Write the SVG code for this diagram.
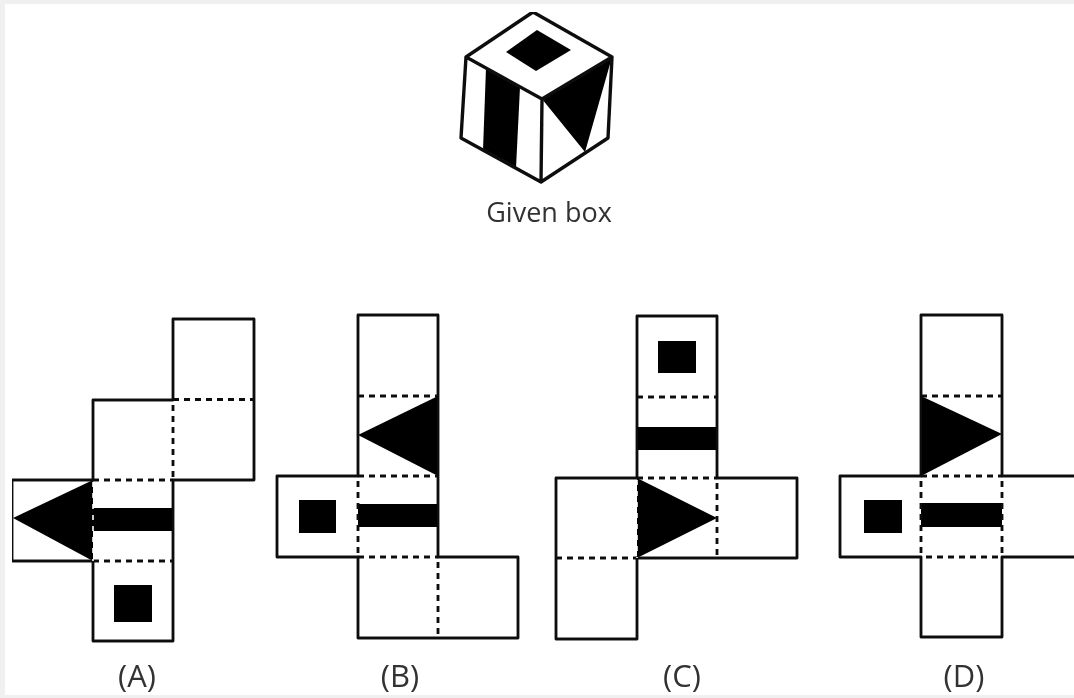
<svg xmlns="http://www.w3.org/2000/svg" width="1074" height="698" viewBox="0 0 1074 698">
<style>
.o{fill:none;stroke:#111;stroke-width:2.8;stroke-linejoin:round;stroke-linecap:round}
.b{fill:none;stroke:#111;stroke-width:3.4;stroke-linejoin:round;stroke-linecap:round}
.d{fill:none;stroke:#111;stroke-width:2.8;stroke-dasharray:6 5}
.w{fill:none;stroke:#fff;stroke-width:1.6;stroke-dasharray:5 6}
.k{fill:#000;stroke:none}
.t{font-family:"Open Sans","Noto Sans",sans-serif;fill:#333;text-anchor:middle}
.l{font-size:31px}
</style>
<defs><filter id="soft" x="0" y="0" width="100%" height="100%"><feGaussianBlur stdDeviation="0.45"/></filter></defs>
<rect width="1074" height="698" fill="#fff"/>
<path d="M0 0H1074V4H5V695H1074V698H0Z" fill="#f0f0f0"/>
<g filter="url(#soft)">
<g id="given-box">
<polygon class="k" points="486,68 520,87 516,168 483,150"/>
<polygon class="k" points="542,99 612,57 585,152"/>
<polygon class="k" points="506,52 537,30 571,50 536,71"/>
<path class="b" d="M533,12 L612,57 L608,138 L541,182 L461,138 L466,57 Z M466,57 L542,99 L612,57 M542,99 L541,182"/>
<text class="t" x="549" y="222" font-size="27">Given box</text>
</g>
<g id="net-a">
<polygon class="k" points="13,518 93,480 93,561"/>
<rect class="k" x="93" y="508" width="80" height="23"/>
<rect class="k" x="114" y="585" width="38" height="37"/>
<path class="o" d="M173,400 V319 H254 V480 H173 V561 M93,480 V400 H173 M93,480 H12 V561 H93 M93,561 V641 H173 V561"/>
<path class="d" d="M173,399.500 H254 M173,405 V480 M93,480 H173 M93,561 H173"/>
<path class="w" d="M93,482 V561"/>
<text class="t l" x="137" y="687">(A)</text>
</g>
<g id="net-b">
<polygon class="k" points="358,435 438,396 438,476"/>
<rect class="k" x="358" y="504" width="80" height="23"/>
<rect class="k" x="299" y="500" width="37" height="33"/>
<path class="o" d="M358,476 V315 H438 V557 H518 V638 H358 V557 M358,476 H277 V557 H358"/>
<path class="d" d="M358,396 H438 M358,476 H438 M358,557 H438 M358,481 V557 M438,562 V638"/>
<text class="t l" x="400" y="687">(B)</text>
</g>
<g id="net-c">
<polygon class="k" points="637,478 717,518 637,558"/>
<rect class="k" x="658" y="341" width="38" height="32"/>
<rect class="k" x="637" y="427" width="80" height="23"/>
<path class="o" d="M637,478 V316 H717 V478 H797 V558 H637 V639 H556 V478 H637"/>
<path class="d" d="M637,397 H717 M637,478 H717 M556,558 H637 M717,483 V558"/>
<path class="w" d="M637,480 V558"/>
<text class="t l" x="682" y="687">(C)</text>
</g>
<g id="net-d">
<polygon class="k" points="921,396 1002,434 921,476"/>
<rect class="k" x="921" y="503" width="81" height="24"/>
<rect class="k" x="864" y="500" width="38" height="33"/>
<path class="o" d="M921,476 V315 H1002 V476 H1076 M921,476 H840 V557 H921 V637 H1002 V557 H1076"/>
<path class="d" d="M921,396 H1002 M921,476 H1002 M926,557 H1002 M921,481 V557 M1002,481 V557"/>
<text class="t l" x="964" y="687">(D)</text>
</g>
</g>
</svg>
